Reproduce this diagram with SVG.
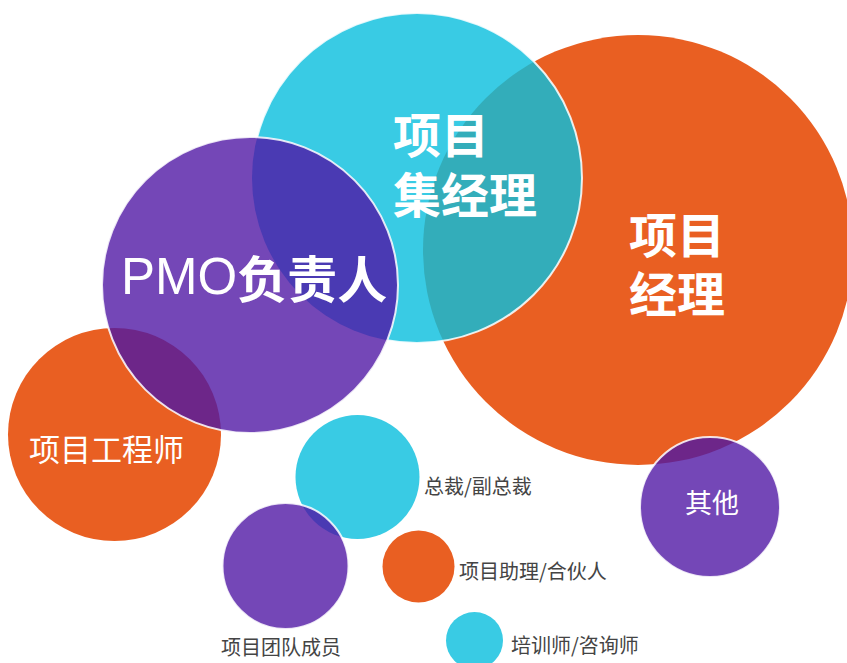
<svg xmlns="http://www.w3.org/2000/svg" width="847" height="663" viewBox="0 0 847 663">
  <style>
    .orange { fill: #E95F22; }
    .cyan { fill: #39CBE4; }
    .purple { fill: #7447B7; }
    .ov-teal { fill: #33ADBA; }
    .ov-pc { fill: #4A3AB3; }
    .ov-po { fill: #6D2689; }
    .edge { fill: none; stroke: #FFFFFF; stroke-opacity: 0.85; stroke-width: 2; }
    .t { font-family: "Noto Sans CJK SC", "Noto Sans", sans-serif; dominant-baseline: central; }
    .big { fill: #FFFFFF; font-weight: bold; font-size: 48px; }
    .mid { fill: #FFFFFF; font-size: 31px; }
    .lbl { fill: #444444; font-size: 20px; }
  </style>
  <defs>
    <clipPath id="c-orange-big"><circle cx="638" cy="250" r="215"/></clipPath>
    <clipPath id="c-cyan-big"><circle cx="417" cy="178" r="165"/></clipPath>
    <clipPath id="c-orange-eng"><circle cx="114.5" cy="434.5" r="106.5"/></clipPath>
    <clipPath id="c-cyan-pres"><circle cx="357.5" cy="477" r="62"/></clipPath>
  </defs>

  <g id="node-pm">
    <circle class="orange" cx="638" cy="250" r="215"/>
    <text class="t big" x="629" y="232"><tspan x="629" y="232">项目</tspan><tspan x="629" y="291">经理</tspan></text>
  </g>

  <g id="node-program-manager">
    <circle class="cyan" cx="417" cy="178" r="165"/>
    <circle class="ov-teal" cx="417" cy="178" r="165" clip-path="url(#c-orange-big)"/>
    <circle class="edge" cx="417" cy="178" r="165"/>
    <text class="t big" x="393" y="132"><tspan x="393" y="132">项目</tspan><tspan x="393" y="192">集经理</tspan></text>
  </g>

  <g id="node-engineer">
    <circle class="orange" cx="114.5" cy="434.5" r="106.5"/>
    <text class="t mid" x="29" y="447">项目工程师</text>
  </g>

  <g id="node-pmo">
    <circle class="purple" cx="250" cy="285" r="148"/>
    <circle class="ov-pc" cx="250" cy="285" r="148" clip-path="url(#c-cyan-big)"/>
    <circle class="ov-po" cx="250" cy="285" r="148" clip-path="url(#c-orange-eng)"/>
    <circle class="edge" cx="250" cy="285" r="148"/>
    <text class="t" x="121" y="276" fill="#FFFFFF" font-size="50"><tspan font-family="'Liberation Sans', Arial, sans-serif" font-size="51" font-weight="normal">PMO</tspan><tspan font-weight="bold">负责人</tspan></text>
  </g>

  <g id="node-president">
    <circle class="cyan" cx="357.5" cy="477" r="62"/>
    <text class="t lbl" x="424" y="485">总裁/副总裁</text>
  </g>

  <g id="node-team">
    <circle class="purple" cx="285.5" cy="566" r="63"/>
    <circle class="ov-pc" cx="285.5" cy="566" r="63" clip-path="url(#c-cyan-pres)"/>
    <circle class="edge" cx="285.5" cy="566" r="63"/>
    <text class="t lbl" x="221" y="646">项目团队成员</text>
  </g>

  <g id="node-assistant">
    <circle class="orange" cx="418.5" cy="566.5" r="36"/>
    <text class="t lbl" x="459" y="570">项目助理/合伙人</text>
  </g>

  <g id="node-trainer">
    <circle class="cyan" cx="474.5" cy="640.5" r="28.5"/>
    <text class="t lbl" x="511" y="644.5">培训师/咨询师</text>
  </g>

  <g id="node-other">
    <circle class="purple" cx="710" cy="507" r="70"/>
    <circle class="ov-po" cx="710" cy="507" r="70" clip-path="url(#c-orange-big)"/>
    <circle class="edge" cx="710" cy="507" r="70"/>
    <text class="t" x="712" y="501" fill="#FFFFFF" font-size="27" text-anchor="middle">其他</text>
  </g>

  <g id="connectors"/>
</svg>
